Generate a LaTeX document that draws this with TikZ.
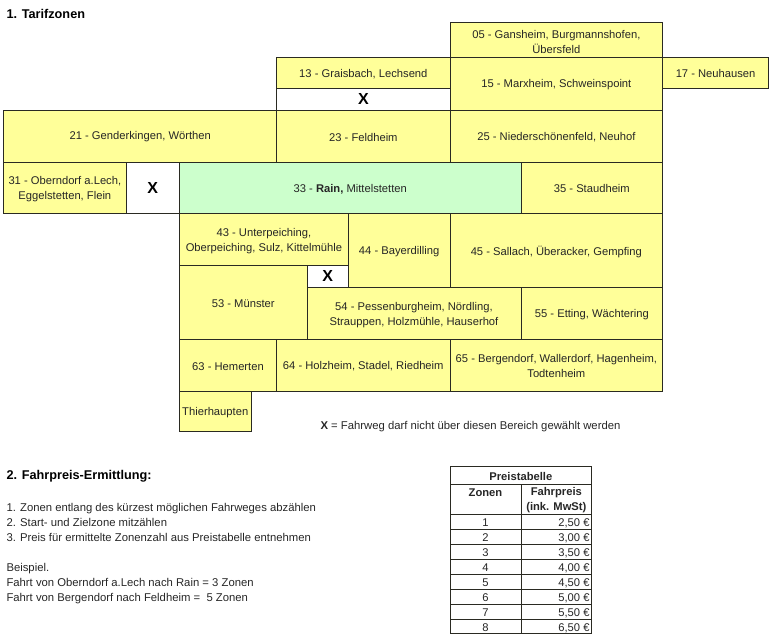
\documentclass[tikz,border=0pt]{standalone}
\usepackage{fontspec}
\setmainfont{Liberation Sans}
\definecolor{zoneyellow}{HTML}{FFFF99}
\definecolor{zonegreen}{HTML}{CCFFCC}
\definecolor{linegrey}{HTML}{2A2A22}
\tikzset{
  zone/.style={draw=linegrey, fill=zoneyellow},
  closed/.style={draw=linegrey, fill=white},
  label/.style={align=center, inner sep=0pt, yshift=-1pt, font=\fontsize{11.2}{15}\selectfont, text=black!85},
  cross/.style={inner sep=0pt, font=\fontsize{16}{18}\selectfont\bfseries},
  head/.style={anchor=west, inner sep=0pt, font=\fontsize{12.7}{15}\selectfont\bfseries},
  plain/.style={anchor=north west, align=left, inner sep=0pt, font=\fontsize{11.3}{15}\selectfont, text=black!85},
  tabhead/.style={align=center, inner sep=0pt, yshift=-1pt, font=\fontsize{11.2}{15}\selectfont\bfseries, text=black!85}
}
\begin{document}
\begin{tikzpicture}[x=1pt, y=-1pt, line width=1pt]
 \useasboundingbox (0,0) rectangle (780,643);

 \node[head] (title1) at (6,14) {1. Tarifzonen};

 % top rows
 \filldraw[zone] (450,22.3) rectangle (662.7,57) node[midway, label, yshift=-1pt] (z05) {05 - Gansheim, Burgmannshofen,\\Übersfeld};
 \filldraw[zone] (276.7,57) rectangle (450,88.7) node[midway, label] (z13) {13 - Graisbach, Lechsend};
 \filldraw[closed] (276.7,88.7) rectangle (450,110) node[midway, cross] (x13) {X};
 \filldraw[zone] (450,57) rectangle (662.7,110) node[midway, label] (z15) {15 - Marxheim, Schweinspoint};
 \filldraw[zone] (662.7,57) rectangle (768.5,88.7) node[midway, label] (z17) {17 - Neuhausen};

 \filldraw[zone] (3.7,110) rectangle (276.7,162) node[midway, label] (z21) {21 - Genderkingen, Wörthen};
 \filldraw[zone] (276.7,110) rectangle (450,162) node[midway, label] (z23) {23 - Feldheim};
 \filldraw[zone] (450,110) rectangle (662.7,162) node[midway, label] (z25) {25 - Niederschönenfeld, Neuhof};

 \filldraw[zone] (3.7,162) rectangle (126,213.7) node[midway, label] (z31) {31 - Oberndorf a.Lech,\\Eggelstetten, Flein};
 \filldraw[closed] (126,162) rectangle (179.5,213.7) node[midway, cross] (x31) {X};
 \filldraw[zone, fill=zonegreen] (179.5,162) rectangle (521,213.7) node[midway, label] (z33) {33 - \textbf{Rain,} Mittelstetten};
 \filldraw[zone] (521,162) rectangle (662.7,213.7) node[midway, label] (z35) {35 - Staudheim};

 % lower rows
 \filldraw[zone] (179.5,213.7) rectangle (348.3,265) node[midway, label, yshift=-1pt] (z43) {43 - Unterpeiching,\\Oberpeiching, Sulz, Kittelmühle};
 \filldraw[zone] (348.3,213.7) rectangle (450,287.7) node[midway, label] (z44) {44 - Bayerdilling};
 \filldraw[zone] (450,213.7) rectangle (662.7,287.7) node[midway, label] (z45) {45 - Sallach, Überacker, Gempfing};

 \filldraw[zone] (179.5,265) rectangle (307,339.3) node[midway, label] (z53) {53 - Münster};
 \filldraw[closed] (307,265) rectangle (348.3,287.7) node[midway, cross] (x53) {X};
 \filldraw[zone] (307,287.7) rectangle (521,339.3) node[midway, label, yshift=-1pt] (z54) {54 - Pessenburgheim, Nördling,\\Strauppen, Holzmühle, Hauserhof};
 \filldraw[zone] (521,287.7) rectangle (662.7,339.3) node[midway, label] (z55) {55 - Etting, Wächtering};

 \filldraw[zone] (179.5,339.3) rectangle (276.5,391) node[midway, label] (z63) {63 - Hemerten};
 \filldraw[zone] (276.5,339.3) rectangle (450,391) node[midway, label] (z64) {64 - Holzheim, Stadel, Riedheim};
 \filldraw[zone] (450,339.3) rectangle (662.7,391) node[midway, label] (z65) {65 - Bergendorf, Wallerdorf, Hagenheim,\\Todtenheim};
 \filldraw[zone] (179.5,391) rectangle (251,431.7) node[midway, label] (thier) {Thierhaupten};

 \node[plain, anchor=west] (legend) at (320,427) {\textbf{X} = Fahrweg darf nicht über diesen Bereich gewählt werden};

 % text below
 \node[head] (title2) at (6,476) {2. Fahrpreis-Ermittlung:};
 \node[plain] (steps) at (6,502.7) {1. Zonen entlang des kürzest möglichen Fahrweges abzählen\\2. Start- und Zielzone mitzählen\\3. Preis für ermittelte Zonenzahl aus Preistabelle entnehmen};
 \node[plain] (sample) at (6,562.7) {Beispiel.\\Fahrt von Oberndorf a.Lech nach Rain = 3 Zonen\\Fahrt von Bergendorf nach Feldheim = \ 5 Zonen};

 % price table
 \draw[draw=linegrey] (450,466.7) rectangle (591.7,484) node[midway, tabhead] (tabtitle) {Preistabelle};
 \draw[draw=linegrey] (450,484) rectangle (521,514.3) node[midway, tabhead] (tabzone) {Zonen\\\phantom{X}};
 \draw[draw=linegrey] (521,484) rectangle (591.7,514.3) node[midway, tabhead] (tabprice) {Fahrpreis\\(ink. MwSt)};
 \draw[draw=linegrey, line width=1.5pt] (450,514.3) -- (591.7,514.3);
 \foreach \n/\val in {1/{2,50},2/{3,00},3/{3,50},4/{4,00},5/{4,50},6/{5,00},7/{5,50},8/{6,50}} {
   \pgfmathsetmacro{\ytop}{514.3+(\n-1)*14.96}
   \pgfmathsetmacro{\ybot}{514.3+\n*14.96}
   \draw[draw=linegrey] (450,\ytop) rectangle (521,\ybot) node[midway, label] (row\n) {\n};
   \draw[draw=linegrey] (521,\ytop) rectangle (591.7,\ybot);
   \node[label, anchor=east] (price\n) at (590,{(\ytop+\ybot)/2+1}) {\val\ €};
 }
\end{tikzpicture}
\end{document}
